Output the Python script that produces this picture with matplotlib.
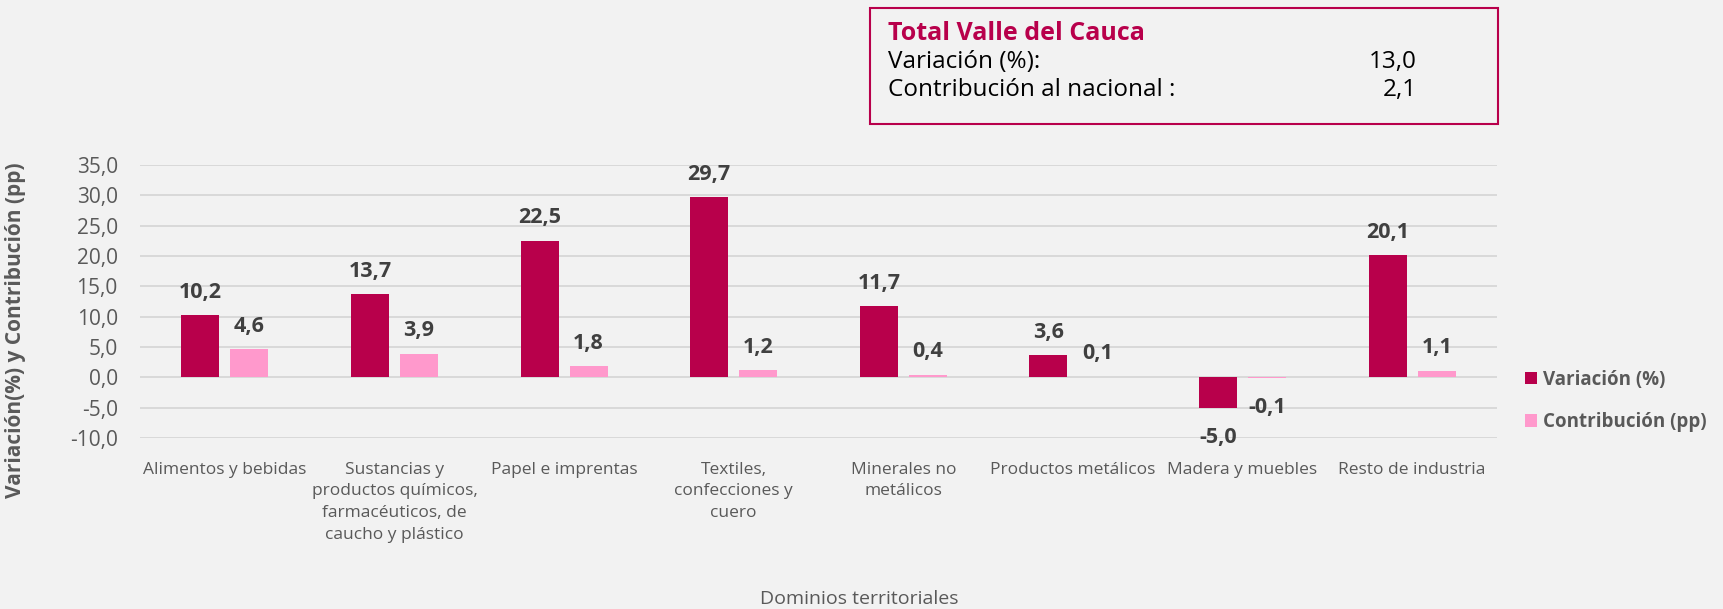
import numpy as np
import matplotlib
matplotlib.use("Agg")
import matplotlib.pyplot as plt
from matplotlib.patches import Rectangle, Patch

# ---------- Data ----------
categories = [
    "Alimentos y bebidas",
    "Sustancias y\nproductos químicos,\nfarmacéuticos, de\ncaucho y plástico",
    "Papel e imprentas",
    "Textiles,\nconfecciones y\ncuero",
    "Minerales no\nmetálicos",
    "Productos metálicos",
    "Madera y muebles",
    "Resto de industria",
]
variacion = [10.2, 13.7, 22.5, 29.7, 11.7, 3.6, -5.0, 20.1]
contribucion = [4.6, 3.9, 1.8, 1.2, 0.4, 0.1, -0.1, 1.1]
series_names = ["Variación (%)", "Contribución (pp)"]

total_title = "Total Valle del Cauca"
total_rows = [("Variación (%):", "13,0"), ("Contribución al nacional :", "2,1")]

y_ticks = [-10, -5, 0, 5, 10, 15, 20, 25, 30, 35]

# ---------- Style ----------
BG = "#F2F2F2"
C_VAR = "#B8004B"
C_CON = "#FF99CC"
C_LABEL = "#404040"
C_TICK = "#595959"
C_GRID = "#D9D9D9"
FONT = ["Open Sans", "DejaVu Sans"]
plt.rcParams["font.family"] = FONT

W, H = 1723, 609
fig = plt.figure(figsize=(W / 100, H / 100), dpi=100, facecolor=BG)
ax = fig.add_axes([140 / W, 1 - 438 / H, (1497 - 140) / W, (438 - 165) / H])
ax.set_facecolor(BG)

x = np.arange(len(categories))
off, bw = 0.1445, 0.224
b1 = ax.bar(x - off, variacion, bw, color=C_VAR, zorder=3)
b2 = ax.bar(x + off, contribucion, bw, color=C_CON, zorder=3)

def fmt(v):
    return f"{v:.1f}".replace(".", ",")

for bars, vals in ((b1, variacion), (b2, contribucion)):
    for rect, v in zip(bars, vals):
        cx = rect.get_x() + rect.get_width() / 2
        dy = 16.5 if v >= 0 else -21.5
        ax.annotate(fmt(v), (cx, v), xytext=(0, dy), textcoords="offset points",
                    ha="center", va="center", fontsize=15.5, fontweight="bold",
                    color=C_LABEL, zorder=4)

ax.set_xlim(-0.5, len(categories) - 0.5)
ax.set_ylim(-10, 35)
ax.set_yticks(y_ticks)
ax.set_yticklabels([fmt(t) for t in y_ticks], fontsize=15, color=C_TICK)
ax.set_xticks(x)
ax.set_xticklabels(categories, fontsize=12.5, color=C_TICK, linespacing=1.48, va="top")
ax.tick_params(axis="both", length=0)
ax.tick_params(axis="y", pad=16)
ax.tick_params(axis="x", pad=17)
ax.grid(axis="y", color=C_GRID, linewidth=1.4, zorder=0)
for s in ax.spines.values():
    s.set_visible(False)

# axis titles
fig.text(16 / W, 1 - 330 / H, "Variación(%) y Contribución (pp)", rotation=90,
         ha="center", va="center", fontsize=15, fontweight="bold", color=C_TICK)
fig.text(859 / W, 1 - 599 / H, "Dominios territoriales", ha="center", va="center",
         fontsize=14, color=C_TICK)

# legend
handles = [Patch(facecolor=C_VAR), Patch(facecolor=C_CON)]
fig.legend(handles, series_names, loc="center left", bbox_to_anchor=(1525 / W, 1 - 401 / H),
           frameon=False, handlelength=0.65, handleheight=0.65, handletextpad=0.3,
           labelspacing=1.2, borderpad=0, borderaxespad=0,
           prop={"size": 13.5, "weight": "bold"}, labelcolor=C_TICK)

# summary box
fig.patches.append(Rectangle((870 / W, 1 - 124 / H), (1498 - 870) / W, (124 - 8) / H,
                             transform=fig.transFigure, facecolor=BG, edgecolor=C_VAR,
                             linewidth=1.5))
fig.text(888 / W, 1 - 34 / H, total_title, ha="left", va="center", fontsize=18,
         fontweight="bold", color=C_VAR)
for i, (lab, val) in enumerate(total_rows):
    yy = 1 - (62 + 28 * i) / H
    fig.text(888 / W, yy, lab, ha="left", va="center", fontsize=17.5, color="#000000")
    fig.text(1417 / W, yy, val, ha="right", va="center", fontsize=17.5, color="#000000")

fig.savefig("out.png", dpi=100, facecolor=BG)
